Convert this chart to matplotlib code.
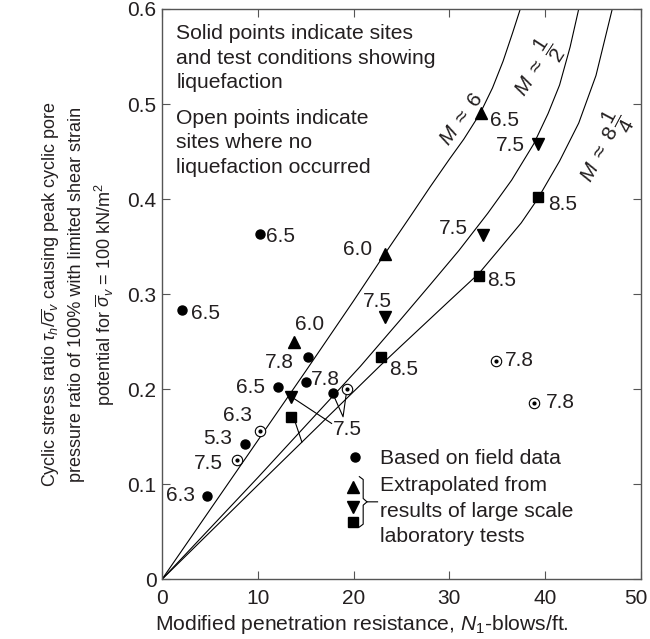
import matplotlib
matplotlib.use("Agg")
import matplotlib.pyplot as plt
from matplotlib.transforms import ScaledTranslation

plt.rcParams['font.family'] = ['Liberation Sans', 'DejaVu Sans']
plt.rcParams['mathtext.fontset'] = 'custom'
plt.rcParams['mathtext.rm'] = 'Liberation Sans'
plt.rcParams['mathtext.it'] = 'Liberation Sans:italic'
plt.rcParams['mathtext.bf'] = 'Liberation Sans:bold'

TXT = '#231f20'
FS = 15

# boundary curves
m6_x = [0, 5, 10, 15, 20, 23.3, 26, 28, 30, 31.5, 33.2, 34.5, 35.6, 36.6, 37.4]
m6_y = [0, 0.073, 0.146, 0.219, 0.293, 0.343, 0.383, 0.413, 0.442, 0.463, 0.49, 0.517,
        0.545, 0.575, 0.6]
m75_x = [0, 10, 20.7, 24.8, 28, 31, 34, 36.5, 38.8, 40.3, 41.5, 42.6, 43.5]
m75_y = [0, 0.107, 0.224, 0.272, 0.31, 0.346, 0.385, 0.42, 0.458, 0.49, 0.52, 0.56, 0.6]
m825_x = [0, 10, 22.8, 24.8, 30, 33.1, 35.1, 37.5, 39.2, 41.5, 43.5, 45.3, 47.0]
m825_y = [0, 0.099, 0.225, 0.244, 0.293, 0.322, 0.346, 0.375, 0.40, 0.44, 0.48, 0.53, 0.6]

# field data, liquefaction (solid circles)
solid_x = [10.2, 2.05, 15.2, 12.15, 15.0, 17.8, 8.66, 4.66]
solid_y = [0.363, 0.283, 0.234, 0.202, 0.208, 0.196, 0.142, 0.088]
solid_m = ["6.5", "6.5", "7.8", "6.5", "7.8", "", "5.3", "6.3"]

# field data, no liquefaction (open circles)
open_x = [10.2, 7.86, 19.3, 34.9, 38.8]
open_y = [0.156, 0.125, 0.200, 0.230, 0.186]
open_m = ["6.3", "7.5", "", "7.8", "7.8"]

# extrapolated from laboratory tests
up_x = [33.3, 23.3, 13.8]
up_y = [0.491, 0.342, 0.250]
up_m = ["6.5", "6.0", "6.0"]
dn_x = [39.3, 33.5, 23.3, 13.5]
dn_y = [0.458, 0.362, 0.276, 0.192]
dn_m = ["7.5", "7.5", "7.5", ""]
sq_x = [39.3, 33.1, 22.9, 13.5]
sq_y = [0.402, 0.319, 0.234, 0.171]
sq_m = ["8.5", "8.5", "8.5", ""]

# label offsets in pixels (dx, dy, ha)
solid_off = [(6, -2, 'left'), (9, -3, 'left'), (-14, -6, 'right'), (-13, 0, 'right'),
             (5, 2, 'left'), None, (-13, 6, 'right'), (-12, 0, 'right')]
open_off = [(-8, 16, 'right'), (-14, -3, 'right'), None, (9, 0, 'left'), (12, 0, 'left')]
up_off = [(9, -8, 'left'), (-13, 5, 'right'), (1, 17, 'left')]
dn_off = [(-14, -2, 'right'), (-15, 7, 'right'), (-8, 15, 'center'), None]
sq_off = [(10, -7, 'left'), (8, -4, 'left'), (8, -13, 'left'), None]

fig = plt.figure(figsize=(6.5, 6.39), dpi=100)
ax = fig.add_axes([162 / 650, 1 - 579.3 / 639, 479 / 650, 570.3 / 639])

for cx, cy in [(m6_x, m6_y), (m75_x, m75_y), (m825_x, m825_y)]:
    ax.plot(cx, cy, color='black', lw=0.8)

ax.plot(solid_x, solid_y, 'o', color='black', ms=6.5, ls='none', zorder=4)
ax.plot(open_x, open_y, 'o', mfc='white', mec='black', mew=0.8, ms=7.5, ls='none', zorder=4)
ax.plot(open_x, open_y, 'o', color='black', ms=2, ls='none', zorder=5)
ax.plot(up_x, up_y, '^', color='black', ms=9, ls='none', zorder=4)
ax.plot(dn_x, dn_y, 'v', color='black', ms=9, ls='none', zorder=4)
ax.plot(sq_x, sq_y, 's', color='black', ms=7.5, ls='none', zorder=4)


def put_labels(xs, ys, ms, offs):
    for x, y, m, o in zip(xs, ys, ms, offs):
        if o is None:
            continue
        ax.annotate(m, (x, y), xytext=(o[0], o[1]), textcoords='offset pixels',
                    ha=o[2], va='center', fontsize=FS, color=TXT)


put_labels(solid_x, solid_y, solid_m, solid_off)
put_labels(open_x, open_y, open_m, open_off)
put_labels(up_x, up_y, up_m, up_off)
put_labels(dn_x, dn_y, dn_m, dn_off)
put_labels(sq_x, sq_y, sq_m, sq_off)

# shared "7.5" label with leader lines
ax.text(19.4, 0.158, "7.5", ha='center', va='center', fontsize=FS, color=TXT)
ax.plot([dn_x[3], 17.7], [dn_y[3], 0.164], color='black', lw=0.8)
ax.plot([13.9, 14.6], [0.1655, 0.1445], color='black', lw=0.8)
ax.plot([solid_x[5], 18.9, open_x[2]], [solid_y[5], 0.171, open_y[2]], color='black', lw=0.8)

# curve labels
ax.text(31.3, 0.484, r"$M\ \approx\ 6$", rotation=54, ha='center', va='center',
        fontsize=FS, color=TXT)
ax.text(39.1, 0.537, r"$M\ \approx\ \dfrac{1}{2}$", rotation=57, ha='center', va='center',
        fontsize=FS, color=TXT)
ax.text(46.1, 0.454, r"$M\ \approx\ 8\,\dfrac{1}{4}$", rotation=62, ha='center', va='center',
        fontsize=FS, color=TXT)

# notes
ax.text(1.5, 0.584, "Solid points indicate sites\nand test conditions showing\nliquefaction",
        ha='left', va='top', fontsize=15.2, color=TXT, linespacing=1.37)
ax.text(1.5, 0.495, "Open points indicate\nsites where no\nliquefaction occurred",
        ha='left', va='top', fontsize=15.2, color=TXT, linespacing=1.37)

# legend
ax.plot([20.1], [0.129], 'o', color='black', ms=6.5)
ax.plot([19.9], [0.097], '^', color='black', ms=9)
ax.plot([19.9], [0.076], 'v', color='black', ms=9)
ax.plot([19.9], [0.0605], 's', color='black', ms=7.5)
ax.plot([20.6, 21.0, 21.0, 21.4, 22.5], [0.108, 0.105, 0.085, 0.0815, 0.0815], color='black', lw=0.8)
ax.plot([20.6, 21.0, 21.0, 21.4], [0.055, 0.058, 0.078, 0.0815], color='black', lw=0.8)
ax.text(22.75, 0.127, "Based on field data", ha='left', va='center', fontsize=15.2, color=TXT)
ax.text(22.75, 0.1085, "Extrapolated from\nresults of large scale\nlaboratory tests",
        ha='left', va='top', fontsize=15.2, color=TXT, linespacing=1.43)

ax.set_xlim(0, 50)
ax.set_ylim(0, 0.6)
ax.set_xticks([0, 10, 20, 30, 40, 50])
ax.set_xticklabels(["0", "10", "20", "30", "40", "50"])
ax.set_yticks([0, 0.1, 0.2, 0.3, 0.4, 0.5, 0.6])
ax.set_yticklabels(["0", "0.1", "0.2", "0.3", "0.4", "0.5", "0.6"])
ax.tick_params(direction='in', length=6, width=0.8, color='#555555', top=True, right=True,
               labelsize=FS, labelcolor=TXT)
ax.tick_params(axis='x', pad=7)
ax.tick_params(axis='y', pad=4)
for s in ax.spines.values():
    s.set_color('#555555')
    s.set_linewidth(1.0)
last = ax.get_xticklabels()[-1]
last.set_transform(last.get_transform() + ScaledTranslation(-0.05, 0, fig.dpi_scale_trans))

fig.text(155 / 650, 1 - 625 / 639, r"Modified penetration resistance, $N_1$-blows/ft.",
         ha='left', va='center', fontsize=15.2, color=TXT)
fig.text(78 / 650, 1 - 294 / 639,
         "Cyclic stress ratio $\\tau_h/\\overline{\\sigma}_v$ causing peak cyclic pore\n"
         "pressure ratio of 100% with limited shear strain\n"
         "potential for $\\overline{\\sigma}_v$ = 100 kN/m$^2$",
         rotation=90, ha='center', va='center', multialignment='center',
         fontsize=13, color=TXT, linespacing=1.45)

fig.savefig("out.png", dpi=100)
